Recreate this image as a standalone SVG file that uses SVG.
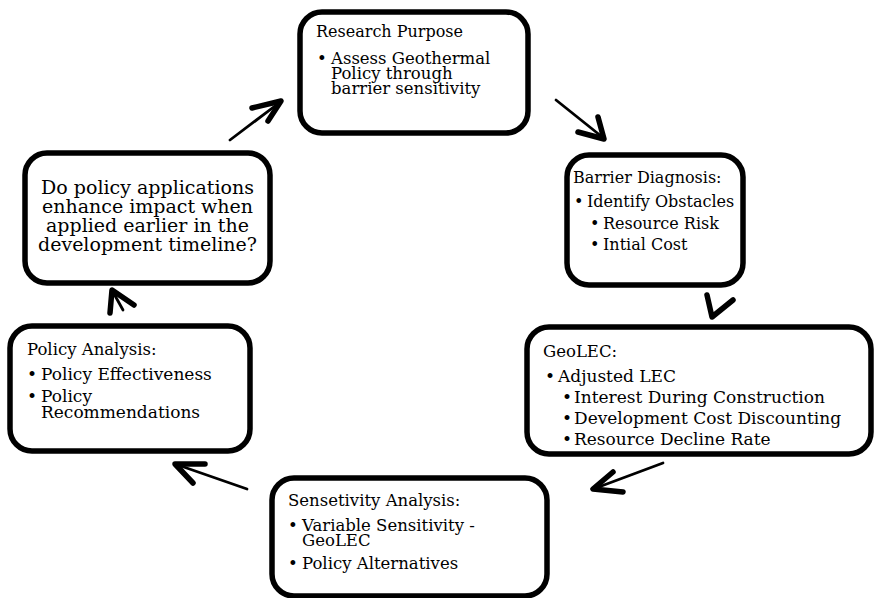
<svg xmlns="http://www.w3.org/2000/svg" width="875" height="598" viewBox="0 0 875 598">
<style>
.box{fill:#fff;stroke:#000;stroke-width:5.5}
text{font-family:"DejaVu Serif","Liberation Serif",serif;font-size:17px;fill:#000}
.q{text-anchor:middle;font-size:19px}
.b{font-size:16px}
.t16{font-size:16px}
.t165{font-size:16.5px}
.shaft{fill:none;stroke:#000;stroke-width:2.8;stroke-linecap:round}
.head{fill:none;stroke:#000;stroke-width:5.5;stroke-linecap:round;stroke-linejoin:round}
</style>
<rect width="875" height="598" fill="#fff"/>
<g id="connectors">
<path class="shaft" d="M230,140 L279,103"/>
<path class="head" d="M252,108 L281,101 L268,121"/>
<path class="shaft" d="M556,100 L601,136"/>
<path class="head" d="M578,132 L604,139 L598,117"/>
<path class="head" d="M707,295 L712,317 L733,300"/>
<path class="shaft" d="M663,463 L596,488"/>
<path class="head" d="M613,472 L593,489 L623,492"/>
<path class="shaft" d="M247,489 L178,465"/>
<path class="head" d="M205,464 L175,464 L193,483"/>
<path class="shaft" d="M123,310 L113,292"/>
<path class="head" d="M110,313 L112,290 L134,305"/>
</g>
<g id="research">
<rect class="box" x="300" y="12" width="228" height="121" rx="22"/>
<text class="t16" x="316" y="37">Research Purpose</text>
<text class="t165" x="317" y="64">•</text>
<text class="t165" x="331" y="64">Assess Geothermal</text>
<text class="t165" x="331" y="79">Policy through</text>
<text class="t165" x="331" y="94">barrier sensitivity</text>
</g>
<g id="barrier">
<rect class="box" x="567" y="155" width="176" height="130" rx="22"/>
<text class="b" x="573" y="183">Barrier Diagnosis:</text>
<text class="b" x="574" y="207">•</text>
<text class="b" x="587" y="207">Identify Obstacles</text>
<text class="b" x="590" y="229">•</text>
<text class="b" x="603" y="229">Resource Risk</text>
<text class="b" x="590" y="250">•</text>
<text class="b" x="603" y="250">Intial Cost</text>
</g>
<g id="geolec">
<rect class="box" x="527" y="327" width="344" height="127" rx="22"/>
<text class="t165" x="543" y="357">GeoLEC:</text>
<text x="545" y="382">•</text>
<text x="558" y="382">Adjusted LEC</text>
<text x="562" y="403">•</text>
<text x="574" y="403">Interest During Construction</text>
<text x="562" y="424">•</text>
<text x="574" y="424">Development Cost Discounting</text>
<text x="562" y="445">•</text>
<text x="574" y="445">Resource Decline Rate</text>
</g>
<g id="sensitivity">
<rect class="box" x="272" y="478" width="275" height="118" rx="22"/>
<text class="t165" x="288" y="506">Sensetivity Analysis:</text>
<text class="t165" x="288" y="531">•</text>
<text class="t165" x="302" y="531">Variable Sensitivity -</text>
<text class="t165" x="302" y="546">GeoLEC</text>
<text class="t165" x="288" y="569">•</text>
<text class="t165" x="302" y="569">Policy Alternatives</text>
</g>
<g id="policy">
<rect class="box" x="10" y="326" width="240" height="125" rx="22"/>
<text class="t165" x="27" y="355">Policy Analysis:</text>
<text x="27" y="380">•</text>
<text x="41" y="380">Policy Effectiveness</text>
<text x="27" y="402">•</text>
<text x="41" y="402">Policy</text>
<text x="41" y="418">Recommendations</text>
</g>
<g id="question">
<rect class="box" x="25" y="153" width="245" height="130" rx="22"/>
<text class="q" x="147.5" y="194">Do policy applications</text>
<text class="q" x="147.5" y="213">enhance impact when</text>
<text class="q" x="147.5" y="232">applied earlier in the</text>
<text class="q" x="147.5" y="251">development timeline?</text>
</g>
</svg>
